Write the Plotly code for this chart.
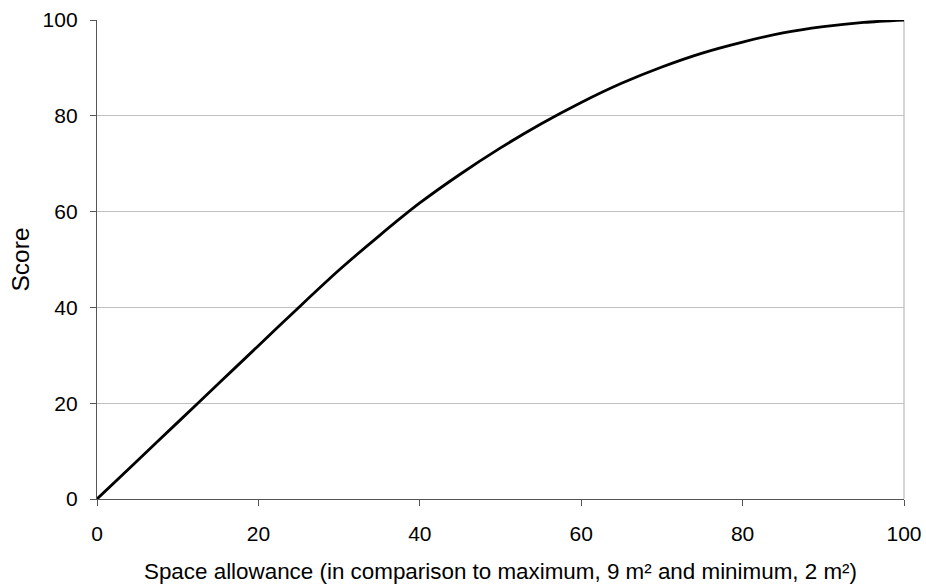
import plotly.graph_objects as go

space_allowance = [0, 5, 10, 15, 20, 25, 30, 35, 40, 45, 50, 55, 60, 65, 70, 75, 80, 85, 90, 95, 100]
score = [0, 8, 16, 24, 32, 40, 47.8, 55, 61.8, 67.8, 73.3, 78.3, 82.8, 86.8, 90.2, 93.1, 95.4, 97.3, 98.6, 99.5, 100]
x_ticks = [0, 20, 40, 60, 80, 100]
y_ticks = [0, 20, 40, 60, 80, 100]

FONT = "Liberation Sans, Arial, sans-serif"

fig = go.Figure()
fig.add_trace(go.Scatter(
    x=space_allowance, y=score, mode="lines",
    line=dict(color="black", width=2.8, shape="spline", smoothing=0.8),
    showlegend=False, hoverinfo="skip",
))

fig.update_layout(
    width=926, height=584,
    margin=dict(l=97, r=22, t=20, b=85, autoexpand=False),
    paper_bgcolor="white", plot_bgcolor="white",
    font=dict(family=FONT, size=21, color="black"),
    xaxis=dict(
        range=[0, 100], tickvals=x_ticks, ticktext=[str(v) for v in x_ticks],
        showgrid=False, zeroline=False, automargin=False,
        showline=True, linecolor="#555555", linewidth=1.3,
        ticks="outside", ticklen=6, tickcolor="#555555", tickwidth=1.3,
        ticklabelstandoff=10,
        title=dict(text="Space allowance (in comparison to maximum, 9 m² and minimum, 2 m²)",
                   font=dict(size=22.4), standoff=18),
    ),
    yaxis=dict(
        range=[0, 100], tickvals=y_ticks, ticktext=[str(v) for v in y_ticks],
        showgrid=True, gridcolor="#c0c0c0", gridwidth=1.2, zeroline=False, automargin=False,
        showline=True, linecolor="#555555", linewidth=1.3,
        ticks="outside", ticklen=6, tickcolor="#555555", tickwidth=1.3,
        ticklabelstandoff=8,
        title=dict(text="Score", font=dict(size=24.5), standoff=6),
    ),
    shapes=[dict(type="line", xref="paper", yref="paper", x0=1, x1=1, y0=0, y1=1,
                 line=dict(color="#c0c0c0", width=1.3), layer="below")],
)

fig.write_html("out.html", config={"displayModeBar": False},
               post_script="document.body.style.margin='0';document.body.style.overflow='hidden';")
